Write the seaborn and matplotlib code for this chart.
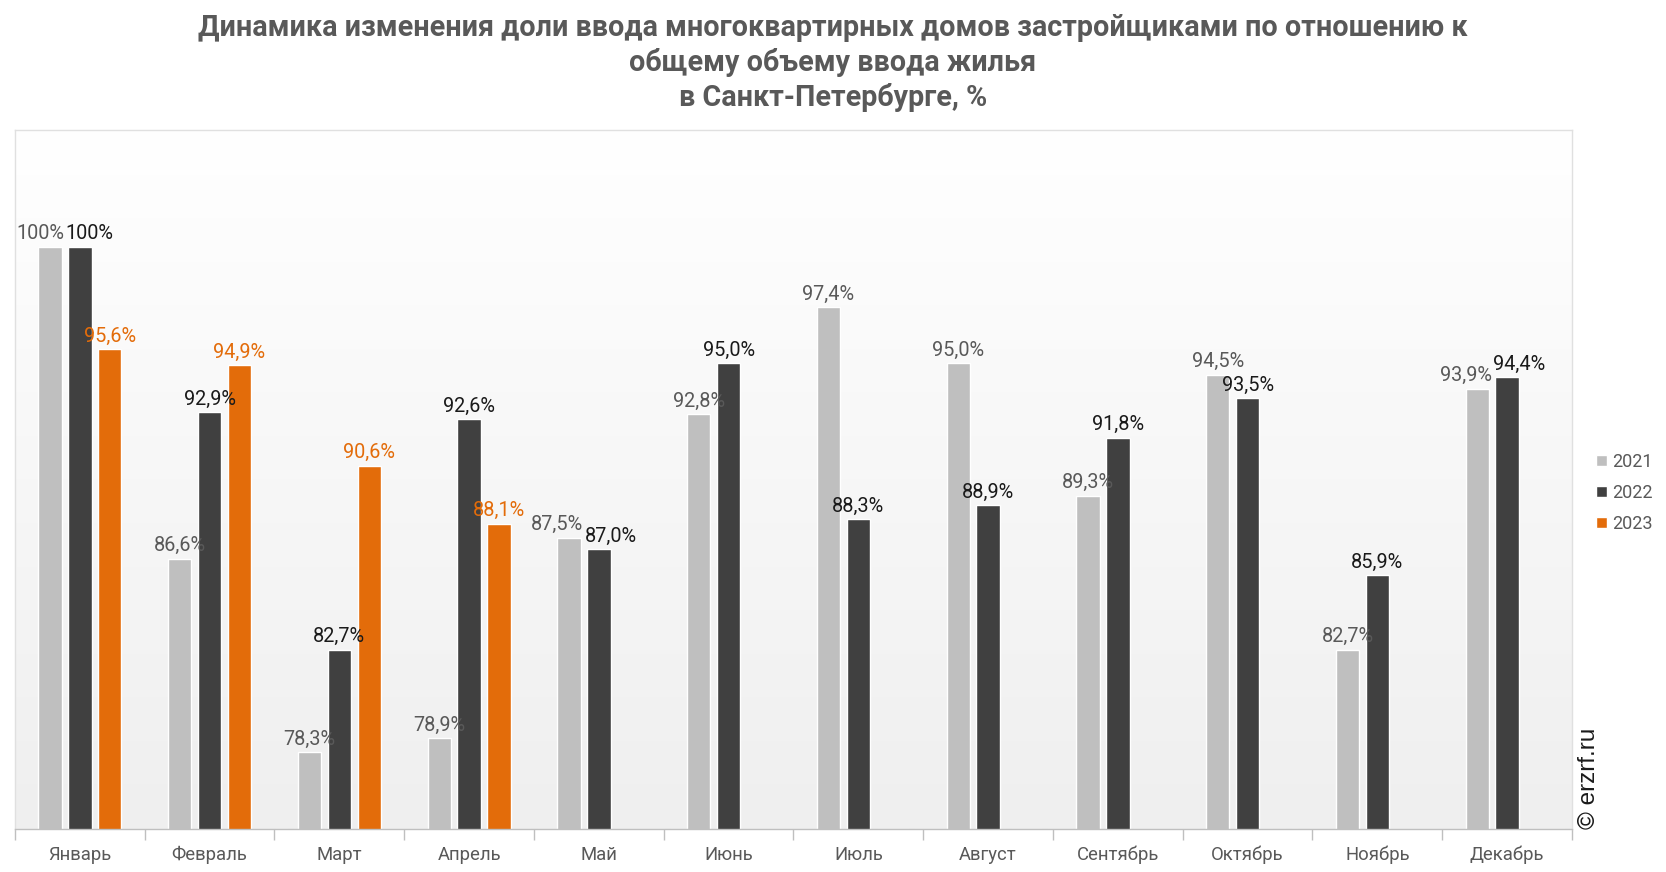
import numpy as np
import pandas as pd
import matplotlib
matplotlib.use("Agg")
import matplotlib.pyplot as plt
import seaborn as sns

months = ["Январь", "Февраль", "Март", "Апрель", "Май", "Июнь", "Июль",
          "Август", "Сентябрь", "Октябрь", "Ноябрь", "Декабрь"]
years = ["2021", "2022", "2023"]
v2021 = [100, 86.6, 78.3, 78.9, 87.5, 92.8, 97.4, 95.0, 89.3, 94.5, 82.7, 93.9]
v2022 = [100, 92.9, 82.7, 92.6, 87.0, 95.0, 88.3, 88.9, 91.8, 93.5, 85.9, 94.4]
v2023 = [95.6, 94.9, 90.6, 88.1, None, None, None, None, None, None, None, None]

title = ("Динамика изменения доли ввода многоквартирных домов застройщиками по отношению к\n"
         "общему объему ввода жилья\nв Санкт-Петербурге, %")

colors = {"2021": "#bfbfbf", "2022": "#404040", "2023": "#e36c0a"}
label_colors = {"2021": "#595959", "2022": "#1a1a1a", "2023": "#e36c0a"}

rows = []
for y, vals in zip(years, [v2021, v2022, v2023]):
    for m, v in zip(months, vals):
        rows.append({"month": m, "year": y, "value": np.nan if v is None else v})
df = pd.DataFrame(rows)

sns.set_theme(style="white")
plt.rcParams["font.family"] = ["Roboto", "DejaVu Sans"]

fig = plt.figure(figsize=(16.66, 8.72), dpi=100)
ax = fig.add_axes([15 / 1666, 1 - 829 / 872, (1572 - 15) / 1666, (829 - 130) / 872])

sns.barplot(data=df, x="month", y="value", hue="year", order=months,
            hue_order=years, palette=colors, width=0.69, gap=0.22,
            saturation=1, ax=ax, errorbar=None, legend=True, zorder=2)

# gradient background (white at top, light gray at bottom)
grad = np.linspace(0, 1, 256).reshape(-1, 1)
cmap = matplotlib.colors.LinearSegmentedColormap.from_list("g", ["#ffffff", "#efefef"])
ax.imshow(grad, extent=[0, 1, 0, 1], origin="upper", transform=ax.transAxes,
          aspect="auto", cmap=cmap, zorder=0)
ax.set_ylim(75, 105)
ax.set_xlim(-0.5, 11.5)

# labels
labels_by_month = {}
for cont, y in zip(ax.containers, years):
    for bar in cont:
        if bar is None:
            continue
        v = bar.get_height()
        if v is None or np.isnan(v):
            continue
        if round(v, 1) == 100:
            txt = "100%"
        else:
            txt = f"{v:.1f}".replace(".", ",") + "%"
        xc = bar.get_x() + bar.get_width() / 2
        t = ax.annotate(txt, (xc, v), xytext=(0, 2.5), textcoords="offset points",
                        ha="center", va="bottom", fontsize=14.3,
                        color=label_colors[y], zorder=3)
        labels_by_month.setdefault(int(round(xc)), []).append(t)

ax.set_xlabel("")
ax.set_ylabel("")
ax.set_yticks([])
ax.tick_params(axis="x", which="major", length=0, labelsize=13.3,
               labelcolor="#595959", pad=12)
ax.set_xticks(np.arange(-0.5, 12, 1), minor=True)
ax.tick_params(axis="x", which="minor", length=8, color="#bfbfbf", width=1,
               bottom=True)
for s in ["left", "top", "right"]:
    ax.spines[s].set_color("#e0e0e0")
    ax.spines[s].set_linewidth(1)
ax.spines["bottom"].set_color("#bfbfbf")
ax.spines["bottom"].set_linewidth(1)

# push apart overlapping neighbouring labels (like the spreadsheet does)
fig.canvas.draw()
renderer = fig.canvas.get_renderer()
for k, labs in labels_by_month.items():
    labs = sorted(labs, key=lambda t: t.xy[0])
    for a, b in zip(labs[:-1], labs[1:]):
        ba = a.get_window_extent(renderer)
        bb = b.get_window_extent(renderer)
        vert = min(ba.y1, bb.y1) - max(ba.y0, bb.y0)
        horiz = ba.x1 - bb.x0
        if vert > 0 and horiz > -1:
            shift = (horiz + 1) / 2 * 72 / fig.dpi
            xa, ya = a.xyann
            xb, yb = b.xyann
            a.xyann = (xa - shift, ya)
            b.xyann = (xb + shift, yb)

handles, labs = ax.get_legend_handles_labels()
ax.legend(handles, labs, loc="center left", bbox_to_anchor=(1580 / 1666, 1 - 493 / 872),
          bbox_transform=fig.transFigure, frameon=False, fontsize=13,
          handlelength=0.6, handleheight=0.6, handletextpad=0.3,
          labelspacing=0.72, labelcolor="#595959")

fig.text(0.5, 1 - 14 / 872, title, ha="center", va="top", fontsize=20.7,
         fontweight="bold", color="#595959", linespacing=1.27)

fig.text(1589 / 1666, 1 - 829 / 872, "© erzrf.ru", rotation=90, ha="center",
         va="bottom", fontsize=17.5, color="#1a1a1a", family=["Liberation Sans"])

fig.savefig("out.png", dpi=100)
